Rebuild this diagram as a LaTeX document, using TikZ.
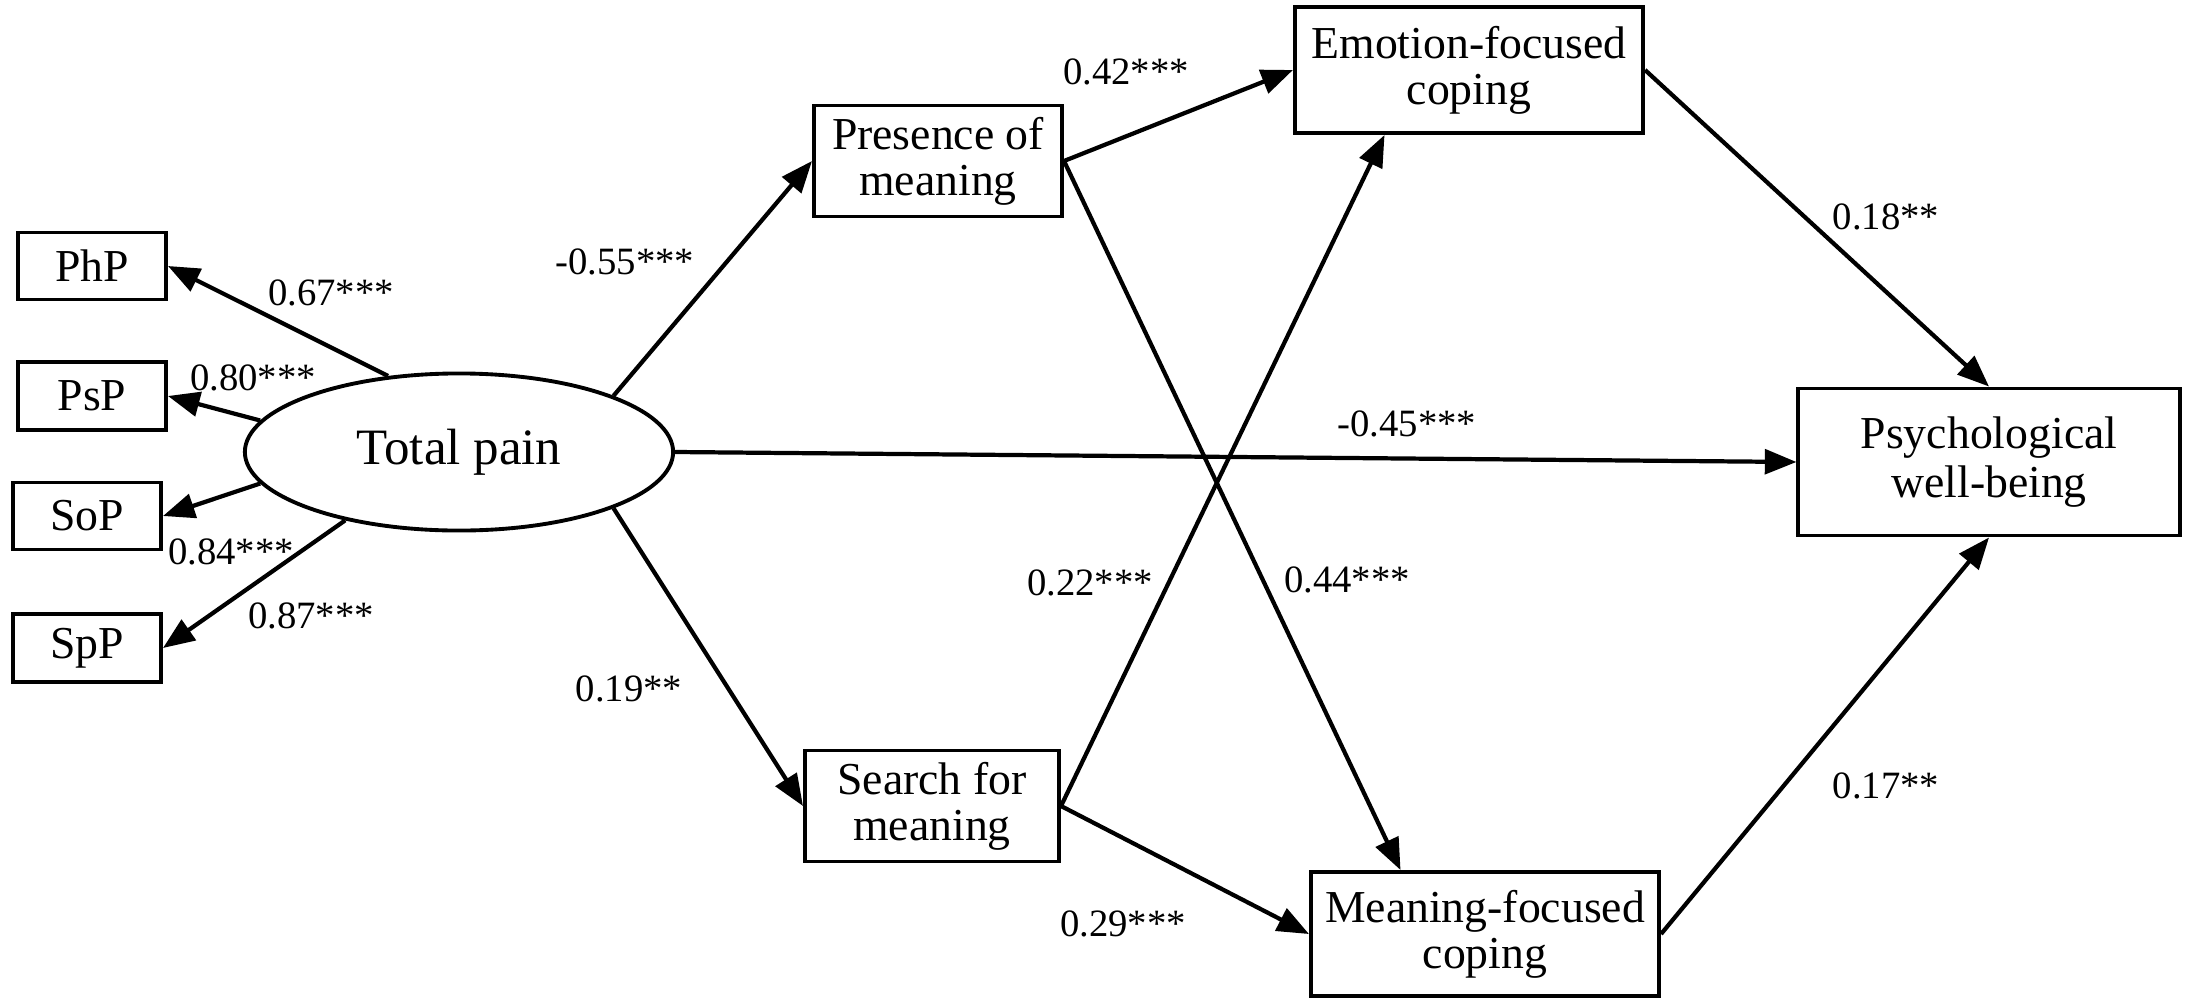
\documentclass[tikz,border=0pt]{standalone}
\usepackage{fontspec}
\setmainfont{Liberation Serif}
\usetikzlibrary{arrows.meta,calc,shapes.geometric,positioning}

\begin{document}
\begin{tikzpicture}[x=0.01cm,y=-0.01cm,
  box/.style={draw,line width=1.1pt,rectangle,align=center,inner sep=2pt,font=\fontsize{13}{13}\selectfont},
  path/.style={line width=1.2pt,-{Triangle[length=9pt,width=7pt]}},
  coef/.style={font=\fontsize{11}{11}\selectfont,inner sep=0pt}]
\useasboundingbox (0,0) rectangle (2186,997);
% indicators
\node[box,minimum width=1.48cm,minimum height=0.67cm] (php) at (92,266) {PhP};
\node[box,minimum width=1.48cm,minimum height=0.68cm] (psp) at (92,396) {PsP};
\node[box,minimum width=1.48cm,minimum height=0.67cm] (sop) at (87,516) {SoP};
\node[box,minimum width=1.48cm,minimum height=0.68cm] (spp) at (87,648) {SpP};
\node[draw,line width=1.1pt,ellipse,minimum width=4.28cm,minimum height=1.57cm,inner sep=0pt,font=\fontsize{14.5}{15}\selectfont] (tp) at (459,452) {Total pain};
% mediators and outcome
\node[box,minimum width=2.48cm,minimum height=1.11cm] (pom) at (938,161) {Presence of\\meaning};
\node[box,minimum width=2.54cm,minimum height=1.11cm] (sfm) at (932,806) {Search for\\meaning};
\node[box,minimum width=3.48cm,minimum height=1.26cm] (efc) at (1469,70) {Emotion-focused\\coping};
\node[box,minimum width=3.48cm,minimum height=1.24cm] (mfc) at (1485,934) {Meaning-focused\\coping};
\node[box,minimum width=3.81cm,minimum height=1.47cm,font=\fontsize{13}{14}\selectfont] (pwb) at (1989,462) {Psychological\\well-being};
% paths
\draw[path] (tp.133) -- (php.east);
\draw[path] (tp.171) -- (psp.east);
\draw[path] (tp.189) -- (sop.east);
\draw[path] (tp.211) -- (spp.east);
\draw[path] (tp.20) -- (pom.west);
\draw[path] (tp.-20) -- (sfm.west);
\draw[path] (tp.east) -- (pwb.west);
\draw[path] (pom.east) -- (efc.west);
\draw[path] (pom.east) -- ($(mfc.north west)!0.26!(mfc.north east)$);
\draw[path] (sfm.east) -- ($(efc.south west)!0.26!(efc.south east)$);
\draw[path] (sfm.east) -- (mfc.west);
\draw[path] (efc.east) -- (pwb.north);
\draw[path] (mfc.east) -- (pwb.south);
% coefficients
\node[coef] (c67) at (331,293) {0.67***};
\node[coef] (c80) at (253,378) {0.80***};
\node[coef] (c84) at (231,552) {0.84***};
\node[coef] (c87) at (311,616) {0.87***};
\node[coef] (c55) at (625,262) {-0.55***};
\node[coef] (c19) at (629,689) {0.19**};
\node[coef] (c42) at (1126,72) {0.42***};
\node[coef] (c45) at (1407,424) {-0.45***};
\node[coef] (c22) at (1090,583) {0.22***};
\node[coef] (c44) at (1347,580) {0.44***};
\node[coef] (c29) at (1123,924) {0.29***};
\node[coef] (c18) at (1886,217) {0.18**};
\node[coef] (c17) at (1886,786) {0.17**};
\end{tikzpicture}
\end{document}
